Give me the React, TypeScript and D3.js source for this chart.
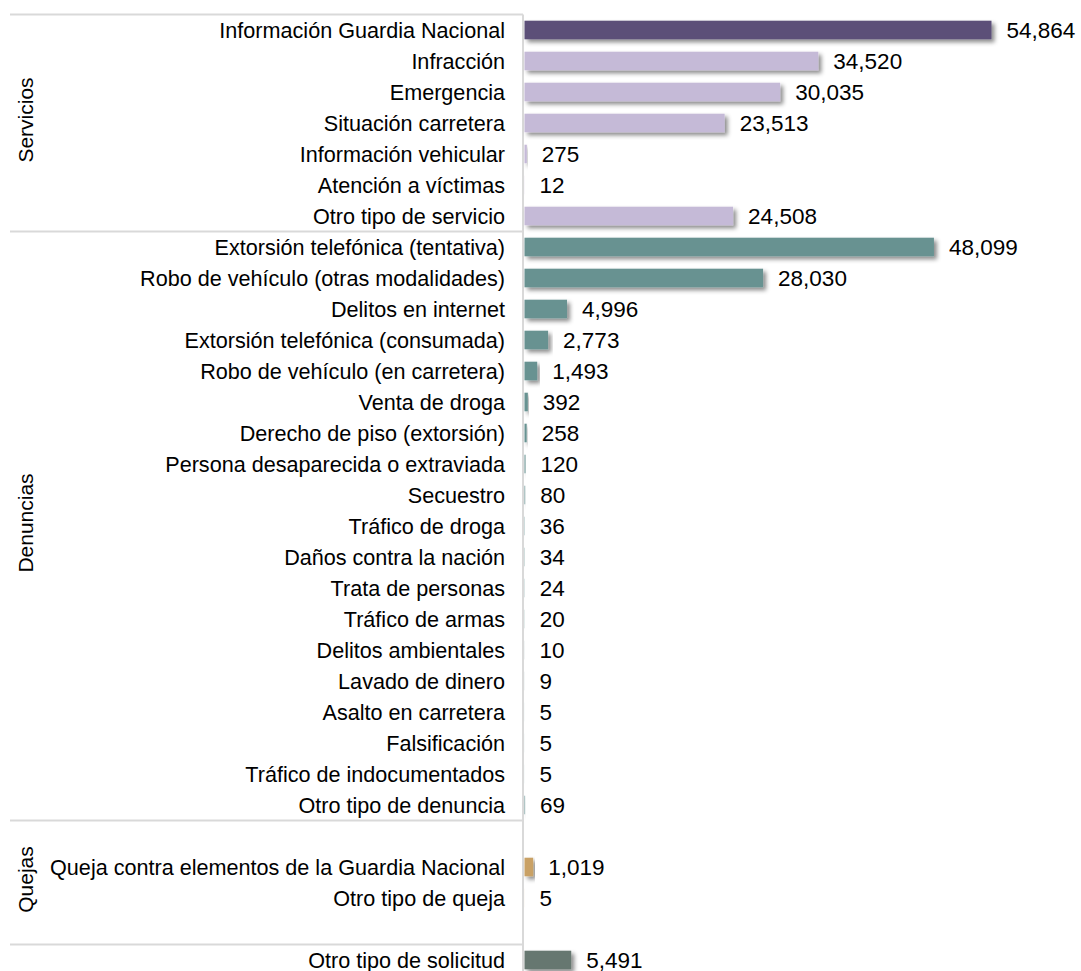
import React from "react";
import * as d3 from "d3";

// Grupos y categorías (el orden es el de la figura)
const serviciosCats = [
  "Información Guardia Nacional",
  "Infracción",
  "Emergencia",
  "Situación carretera",
  "Información vehicular",
  "Atención a víctimas",
  "Otro tipo de servicio",
];
const serviciosVals = [54864, 34520, 30035, 23513, 275, 12, 24508];

const denunciasCats = [
  "Extorsión telefónica (tentativa)",
  "Robo de vehículo (otras modalidades)",
  "Delitos en internet",
  "Extorsión telefónica (consumada)",
  "Robo de vehículo (en carretera)",
  "Venta de droga",
  "Derecho de piso (extorsión)",
  "Persona desaparecida o extraviada",
  "Secuestro",
  "Tráfico de droga",
  "Daños contra la nación",
  "Trata de personas",
  "Tráfico de armas",
  "Delitos ambientales",
  "Lavado de dinero",
  "Asalto en carretera",
  "Falsificación",
  "Tráfico de indocumentados",
  "Otro tipo de denuncia",
];
const denunciasVals = [
  48099, 28030, 4996, 2773, 1493, 392, 258, 120, 80, 36, 34, 24, 20, 10, 9, 5,
  5, 5, 69,
];

// Quejas ocupa cuatro renglones, con uno vacío arriba y otro abajo
const quejasCats = ["", "Queja contra elementos de la Guardia Nacional", "Otro tipo de queja", ""];
const quejasVals = [null, 1019, 5, null];

const otrosCats = ["Otro tipo de solicitud"];
const otrosVals = [5491];

const groupNames = ["Servicios", "Denuncias", "Quejas", ""];

const COLOR_TOP = "#5b5078";
const COLOR_SERV = "#c5bad7";
const COLOR_DEN = "#679291";
const COLOR_QUE = "#c9a165";
const COLOR_OTRO = "#66776f";
const GRID = "#d9d9d9";
const FONT = "'Liberation Sans', Arial, sans-serif";

interface Row {
  key: string;
  label: string;
  value: number | null;
  color: string;
  group: number;
}

function buildRows(): Row[] {
  const rows: Row[] = [];
  serviciosCats.forEach((c, i) =>
    rows.push({ key: "s" + i, label: c, value: serviciosVals[i], color: i === 0 ? COLOR_TOP : COLOR_SERV, group: 0 })
  );
  denunciasCats.forEach((c, i) =>
    rows.push({ key: "d" + i, label: c, value: denunciasVals[i], color: COLOR_DEN, group: 1 })
  );
  quejasCats.forEach((c, i) =>
    rows.push({ key: "q" + i, label: c, value: quejasVals[i], color: COLOR_QUE, group: 2 })
  );
  otrosCats.forEach((c, i) =>
    rows.push({ key: "o" + i, label: c, value: otrosVals[i], color: COLOR_OTRO, group: 3 })
  );
  return rows;
}

export default function App() {
  const width = 1081;
  const height = 971;
  const rows = buildRows();

  const top = 14.5;
  const step = 31.0;
  const axisX = 523;
  const leftX = 10;

  const y = d3
    .scaleBand<string>()
    .domain(rows.map((r) => r.key))
    .range([top, top + step * rows.length])
    .paddingInner(0.4)
    .paddingOuter(0.2);

  const maxValue = d3.max(rows, (r) => r.value ?? 0) as number;
  const x = d3.scaleLinear().domain([0, maxValue]).range([524.5, 991.5]);
  const fmt = d3.format(",");

  // límites de grupo
  const groups = groupNames.map((name, g) => {
    const gr = rows.filter((r) => r.group === g);
    const y0 = y(gr[0].key)! - (y.step() - y.bandwidth()) / 2;
    const y1 = y(gr[gr.length - 1].key)! + y.bandwidth() + (y.step() - y.bandwidth()) / 2;
    return { name, y0, y1 };
  });

  return (
    <svg
      width={width}
      height={height}
      style={{ position: "absolute", left: 0, top: 0, background: "#fff" }}
      fontFamily={FONT}
    >
      <defs>
        <filter id="sombra" x="-10%" y="-50%" width="130%" height="220%">
          <feDropShadow dx="3" dy="3" stdDeviation="2.2" floodColor="#000" floodOpacity="0.45" />
        </filter>
      </defs>

      {/* líneas separadoras */}
      {groups.map((g, i) => (
        <line key={"sep" + i} x1={leftX} x2={axisX} y1={g.y0} y2={g.y0} stroke={GRID} strokeWidth={2} />
      ))}
      <line x1={axisX} x2={axisX} y1={groups[0].y0} y2={height} stroke={GRID} strokeWidth={2} />

      {/* etiquetas de grupo */}
      {groups.map((g, i) =>
        g.name ? (
          <text
            key={"g" + i}
            transform={`translate(33,${(g.y0 + g.y1) / 2 - 3}) rotate(-90)`}
            textAnchor="middle"
            fontSize={21}
            fill="#000"
          >
            {g.name}
          </text>
        ) : null
      )}

      {/* barras */}
      {rows.map((r) =>
        r.value !== null ? (
          <rect
            key={"b" + r.key}
            x={x(0)}
            y={y(r.key)!}
            width={Math.max(0, x(r.value) - x(0))}
            height={y.bandwidth()}
            fill={r.color}
            filter="url(#sombra)"
          />
        ) : null
      )}

      {/* etiquetas de categoría */}
      {rows.map((r) =>
        r.label ? (
          <text
            key={"c" + r.key}
            x={505}
            y={y(r.key)! + y.bandwidth() / 2}
            dy="0.35em"
            textAnchor="end"
            fontSize={21.6}
            fill="#000"
          >
            {r.label}
          </text>
        ) : null
      )}

      {/* valores */}
      {rows.map((r) =>
        r.value !== null ? (
          <text
            key={"v" + r.key}
            x={x(r.value) + 15}
            y={y(r.key)! + y.bandwidth() / 2}
            dy="0.35em"
            fontSize={22.5}
            fill="#000"
          >
            {fmt(r.value)}
          </text>
        ) : null
      )}
    </svg>
  );
}
